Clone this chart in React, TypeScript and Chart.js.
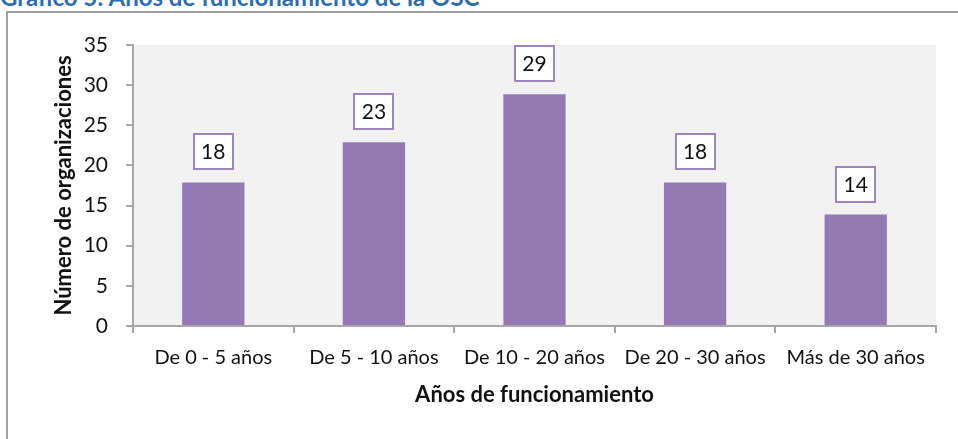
import React, { useEffect, useRef } from 'react';
import { Chart, registerables } from 'chart.js';

Chart.register(...registerables);

const categories = ['De 0 - 5 años', 'De 5 - 10 años', 'De 10 - 20 años', 'De 20 - 30 años', 'Más de 30 años'];
const values = [18, 23, 29, 18, 14];
const yTicks = [0, 5, 10, 15, 20, 25, 30, 35];

const FONT = 'Lato, "Open Sans", sans-serif';
const AXIS = '#a6a6a6';
const TEXT = '#111111';

const plotBg = {
  id: 'plotBg',
  beforeDraw(chart: any) {
    const { ctx, chartArea } = chart;
    ctx.save();
    ctx.fillStyle = '#f2f2f2';
    ctx.fillRect(chartArea.left, chartArea.top, chartArea.right - chartArea.left, chartArea.bottom - chartArea.top);
    ctx.restore();
  },
};

const boxLabels = {
  id: 'boxLabels',
  afterDatasetsDraw(chart: any) {
    const ctx = chart.ctx;
    const meta = chart.getDatasetMeta(0);
    const data = chart.data.datasets[0].data as number[];
    ctx.save();
    meta.data.forEach((bar: any, i: number) => {
      const w = 41;
      const h = 37;
      const x = Math.round(bar.x - w / 2);
      const y = Math.round(bar.y - 11 - h);
      ctx.fillStyle = '#ffffff';
      ctx.fillRect(x, y, w, h);
      ctx.strokeStyle = '#9b86bd';
      ctx.lineWidth = 2;
      ctx.strokeRect(x + 1, y + 1, w - 2, h - 2);
      ctx.fillStyle = TEXT;
      ctx.font = `21px ${FONT}`;
      ctx.textAlign = 'center';
      ctx.textBaseline = 'middle';
      ctx.fillText(String(data[i]), bar.x, y + h / 2 + 1);
    });
    ctx.restore();
  },
};

export default function App() {
  const ref = useRef<HTMLCanvasElement | null>(null);

  useEffect(() => {
    if (!ref.current) return;
    const chart = new Chart(ref.current, {
      type: 'bar',
      data: {
        labels: categories,
        datasets: [
          {
            data: values,
            backgroundColor: '#937ab5',
            borderColor: 'rgba(238,232,246,0.95)',
            borderWidth: 1,
            barPercentage: 0.4,
            categoryPercentage: 1,
          },
        ],
      },
      options: {
        responsive: false,
        animation: false,
        layout: { padding: { left: 30, right: 22, top: 45, bottom: 20 } },
        plugins: {
          legend: { display: false },
          tooltip: { enabled: false },
        },
        scales: {
          x: {
            ticks: { color: TEXT, font: { family: FONT, size: 20 }, padding: 13, maxRotation: 0, autoSkip: false },
            grid: { drawOnChartArea: false, drawTicks: true, tickLength: 7, color: AXIS, lineWidth: 2, offset: true },
            border: { color: AXIS, width: 2 },
            title: {
              display: true,
              text: 'Años de funcionamiento',
              color: TEXT,
              font: { family: FONT, size: 22, weight: 'bold' },
              padding: { top: 0, bottom: 11 },
            },
            afterFit(s: any) {
              s.height = 93;
            },
          },
          y: {
            min: 0,
            max: 35,
            afterBuildTicks(s: any) {
              s.ticks = yTicks.map((v) => ({ value: v }));
            },
            ticks: { color: TEXT, font: { family: FONT, size: 21 }, padding: 18 },
            grid: { drawOnChartArea: false, drawTicks: true, tickLength: 7, color: AXIS, lineWidth: 2 },
            border: { color: AXIS, width: 2 },
            title: {
              display: true,
              text: 'Número de organizaciones',
              color: TEXT,
              font: { family: FONT, size: 22, weight: 'bold' },
              padding: { top: 21, bottom: 0 },
            },
            afterFit(s: any) {
              s.width = 103;
            },
          },
        },
      },
      plugins: [plotBg, boxLabels],
    } as any);
    return () => chart.destroy();
  }, []);

  return (
    <div style={{ position: 'fixed', left: 0, top: 0, width: 958, height: 439, overflow: 'hidden', background: '#fff' }}>
      <div
        style={{
          position: 'absolute',
          left: 0,
          top: -16,
          fontFamily: FONT,
          fontWeight: 'bold',
          fontSize: 24,
          lineHeight: '26px',
          color: '#2e6db4',
          whiteSpace: 'nowrap',
        }}
      >
        Gráfico 5: Años de funcionamiento de la OSC
      </div>
      <div
        style={{
          position: 'absolute',
          left: 6,
          top: 11,
          width: 1000,
          height: 500,
          border: '2px solid #a0a0a0',
          boxSizing: 'border-box',
        }}
      />
      <canvas ref={ref} width={958} height={439} style={{ position: 'absolute', left: 0, top: 0 }} />
    </div>
  );
}
